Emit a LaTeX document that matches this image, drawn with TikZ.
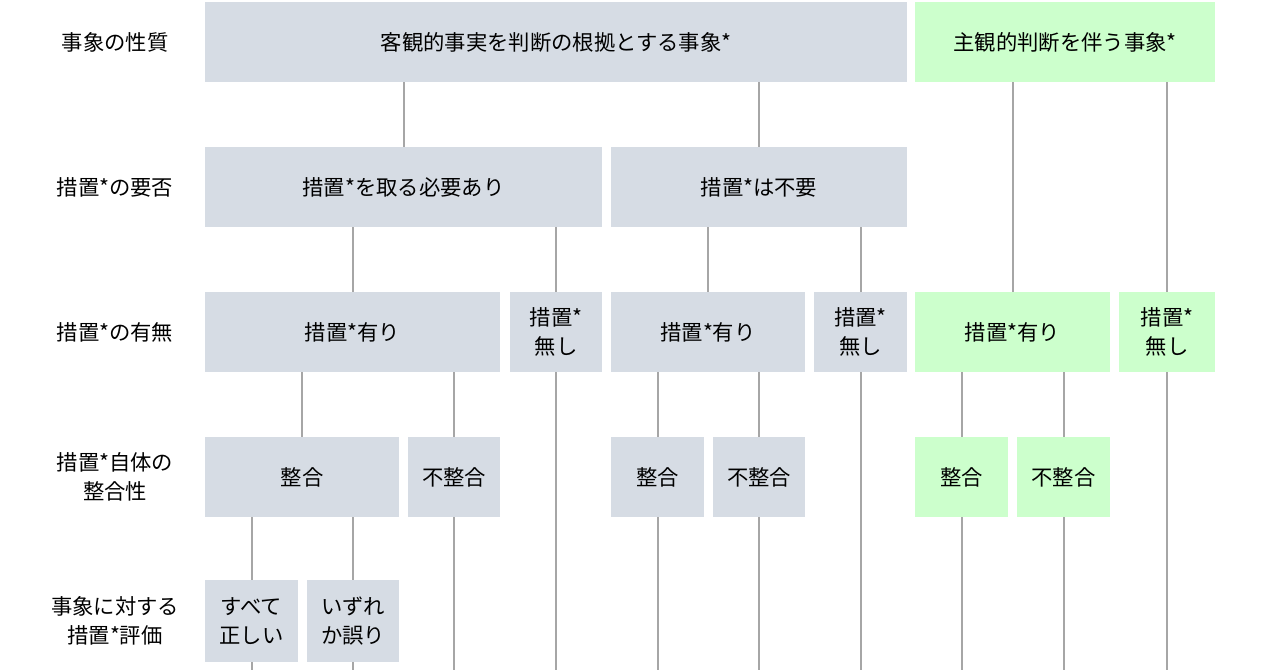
\documentclass[tikz,border=0pt]{standalone}
\usepackage{fontspec}
\setmainfont{Noto Sans CJK JP}
\newcommand\bx[7]{\node[box,fill=#6,minimum width={(#4-#2)*0.75pt},minimum height={(#5-#3)*0.75pt}] (#1) at ({(#2+#4)/2},{(#3+#5)/2}) {#7};}
\begin{document}
\begin{tikzpicture}[x=0.75pt,y=-0.75pt,
  box/.style={inner sep=0pt,align=center,font=\fontsize{16}{22}\selectfont},
  lab/.style={inner sep=0pt,align=center,font=\fontsize{16}{22}\selectfont},
  ln/.style={draw=black!35,line width=1.5pt}]
\definecolor{gb}{HTML}{D6DCE4}
\definecolor{gn}{HTML}{CCFFCC}
\useasboundingbox (0,0) rectangle (1280,670);
\coordinate (bot) at (0,670);
\node[lab] (l1) at (115,42) {事象の性質};
\node[lab] (l2) at (115,187) {措置*の要否};
\node[lab] (l3) at (115,332) {措置*の有無};
\node[lab] (l4) at (115,477) {措置*自体の\\整合性};
\node[lab] (l5) at (115,621) {事象に対する\\措置*評価};
\bx{a1}{205}{2}{907}{82}{gb}{客観的事実を判断の根拠とする事象*}
\bx{a2}{915}{2}{1215}{82}{gn}{主観的判断を伴う事象*}
\bx{b1}{205}{147}{602}{227}{gb}{措置*を取る必要あり}
\bx{b2}{611}{147}{907}{227}{gb}{措置*は不要}
\bx{c1}{205}{292}{500}{372}{gb}{措置*有り}
\bx{c2}{510}{292}{602}{372}{gb}{措置*\\無し}
\bx{c3}{611}{292}{805}{372}{gb}{措置*有り}
\bx{c4}{814}{292}{907}{372}{gb}{措置*\\無し}
\bx{c5}{915}{292}{1110}{372}{gn}{措置*有り}
\bx{c6}{1119}{292}{1215}{372}{gn}{措置*\\無し}
\bx{d1}{205}{437}{399}{517}{gb}{整合}
\bx{d2}{408}{437}{500}{517}{gb}{不整合}
\bx{d3}{611}{437}{704}{517}{gb}{整合}
\bx{d4}{713}{437}{805}{517}{gb}{不整合}
\bx{d5}{915}{437}{1008}{517}{gn}{整合}
\bx{d6}{1017}{437}{1110}{517}{gn}{不整合}
\bx{e1}{205}{580}{298}{662}{gb}{すべて\\正しい}
\bx{e2}{307}{580}{399}{662}{gb}{いずれ\\か誤り}
% connectors
\draw[ln] (b1.north) ++(0,0) coordinate (t);
\draw[ln] (a1.south -| b1.north) -- (b1.north);
\draw[ln] (a1.south -| b2.north) -- (b2.north);
\draw[ln] (a2.south -| c5.north) -- (c5.north);
\draw[ln] (a2.south -| c6.north) -- (c6.north);
\draw[ln] (b1.south -| d1.north) ++(48,0) coordinate (p1);
\coordinate (x353) at (353,0);
\draw[ln] (b1.south -| x353) -- (c1.north -| x353);
\draw[ln] (b1.south -| c2.north) -- (c2.north);
\draw[ln] (b2.south -| 708,0) -- (c3.north -| 708,0);
\draw[ln] (b2.south -| c4.north) -- (c4.north);
\draw[ln] (c1.south -| d1.north) -- (d1.north);
\draw[ln] (c1.south -| d2.north) -- (d2.north);
\draw[ln] (c2.south) -- (c2.south |- bot);
\draw[ln] (c3.south -| d3.north) -- (d3.north);
\draw[ln] (c3.south -| d4.north) -- (d4.north);
\draw[ln] (c4.south) -- (c4.south |- bot);
\draw[ln] (c5.south -| d5.north) -- (d5.north);
\draw[ln] (c5.south -| d6.north) -- (d6.north);
\draw[ln] (c6.south) -- (c6.south |- bot);
\draw[ln] (d1.south -| e1.north) -- (e1.north);
\draw[ln] (d1.south -| e2.north) -- (e2.north);
\draw[ln] (d2.south) -- (d2.south |- bot);
\draw[ln] (d3.south) -- (d3.south |- bot);
\draw[ln] (d4.south) -- (d4.south |- bot);
\draw[ln] (d5.south) -- (d5.south |- bot);
\draw[ln] (d6.south) -- (d6.south |- bot);
\draw[ln] (e1.south) -- (e1.south |- bot);
\draw[ln] (e2.south) -- (e2.south |- bot);
\end{tikzpicture}
\end{document}
